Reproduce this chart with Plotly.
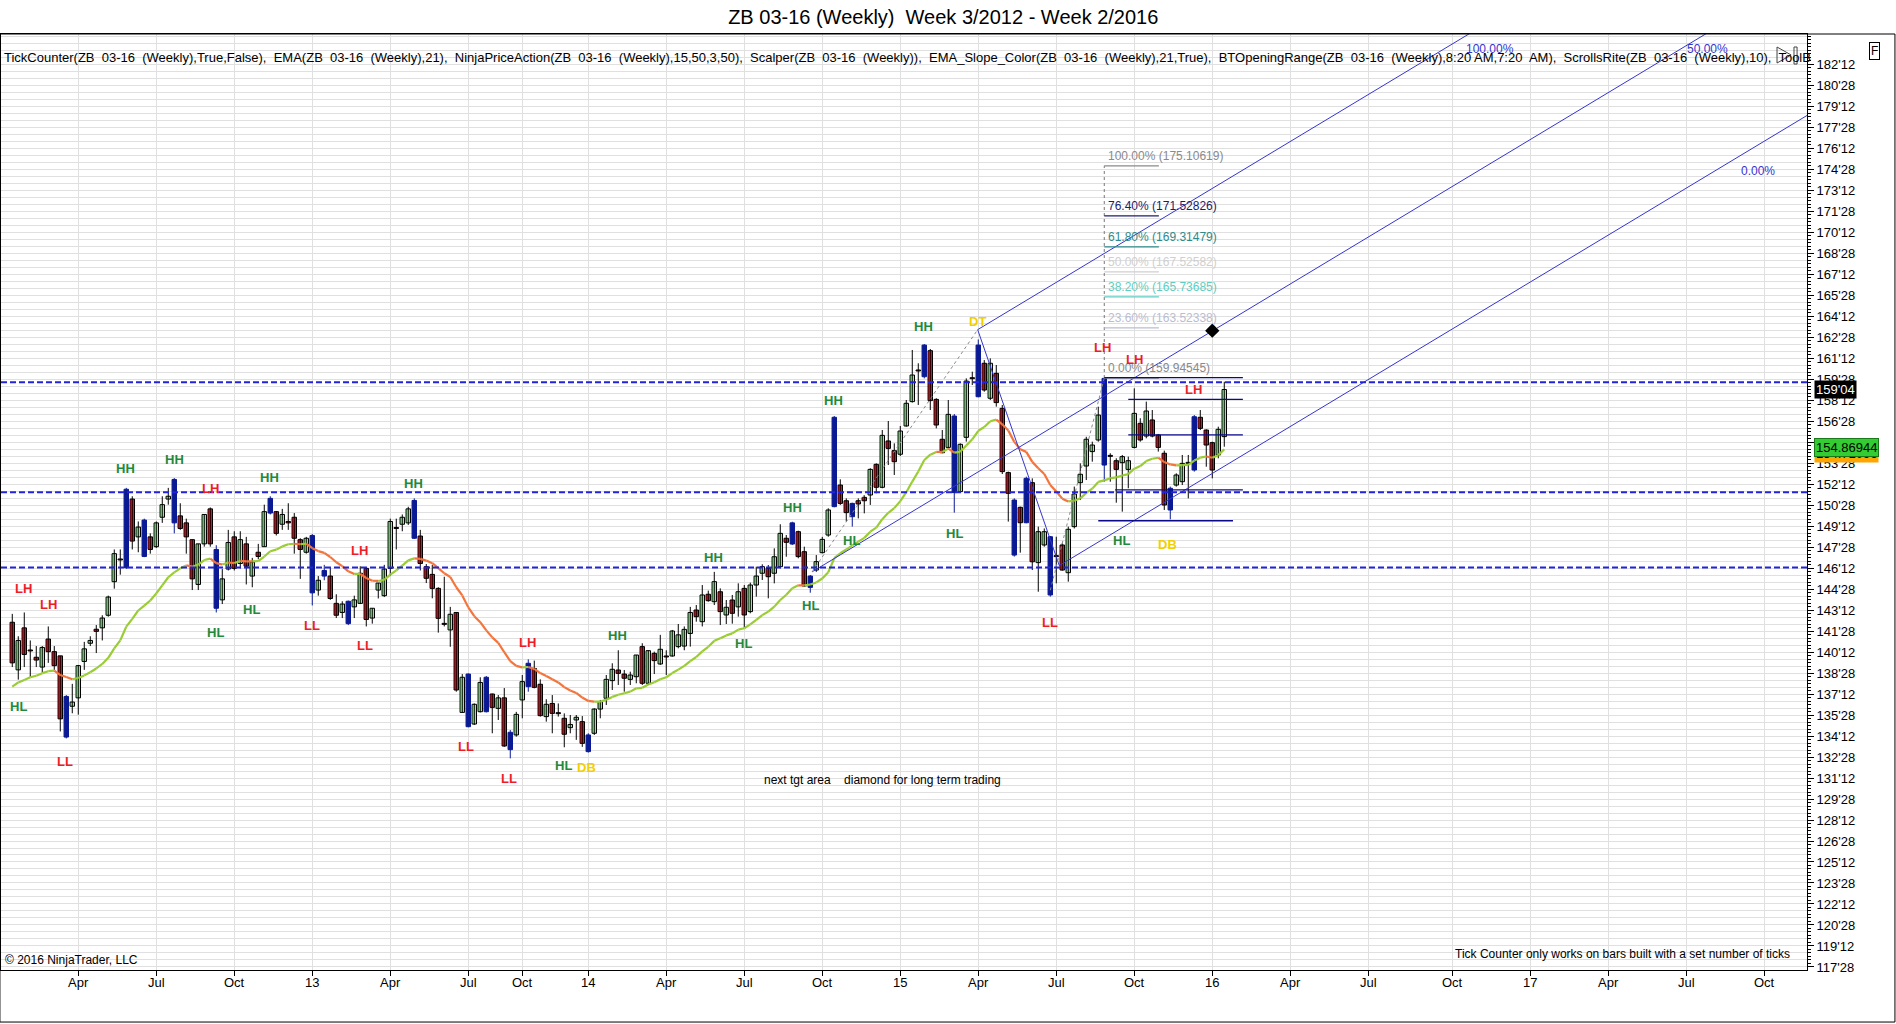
import plotly.graph_objects as go

# weekly bars, ZB 03-16, one bar per week (bar index on x)
OPEN = [142.5, 139.1, 142.1, 140.5, 140.0, 139.3, 141.3, 140.4, 140.1, 134.3,
        136.5, 137.1, 139.7, 141.0, 142.0, 142.1, 143.0, 145.4, 147.0, 146.4,
        151.3, 148.6, 149.8, 148.6, 147.9, 150.0, 151.3, 152.7, 150.1, 149.6,
        148.4, 145.2, 148.1, 150.6, 147.7, 144.1, 146.3, 148.6, 146.7, 148.1,
        145.8, 147.5, 147.9, 150.3, 150.4, 149.5, 149.7, 150.0, 148.4, 147.5,
        148.7, 144.8, 145.8, 145.8, 143.85, 143.2, 144.0, 143.6, 143.85, 146.35,
        142.8, 144.8, 144.4, 146.35, 149.25, 149.5, 149.6, 151.2, 148.66, 146.47,
        145.92, 144.92, 142.4, 141.95, 143.2, 136.06, 138.8, 135.23, 136.11, 138.57,
        137.375, 136.35, 137.1, 134.64, 134.45, 136.95, 137.9, 139.2, 138.07, 135.76,
        136.7, 135.99, 135.64, 134.97, 135.52, 135.4, 133.26, 134.57, 136.3, 137.07,
        138.33, 139.09, 138.8, 138.42, 138.61, 140.76, 138.14, 140.28, 139.52, 140.04,
        140.09, 140.76, 140.8, 141.7, 143.375, 142.54, 144.5, 143.97, 144.68, 143.02,
        144.09, 143.6, 144.92, 143.26, 145.16, 146.0, 146.35, 146.0, 146.47, 148.5,
        148.09, 148.97, 147.54, 144.99, 146.23, 147.47, 148.73, 150.76, 152.3, 151.18,
        150.04, 151.18, 151.42, 151.59, 153.78, 152.14, 155.45, 154.76, 154.5, 156.52,
        158.26, 160.47, 160.04, 161.9, 158.42, 155.57, 154.99, 157.23, 151.83, 155.71,
        159.92, 158.61, 161.0, 158.5, 160.28, 157.78, 153.19, 151.23, 150.71, 149.61,
        152.47, 146.76, 148.02, 148.61, 147.23, 148.02, 146.04, 149.33, 152.47, 153.66,
        154.69, 155.52, 159.92, 154.375, 154.04, 153.9, 153.42, 154.99, 156.71, 155.8,
        156.95, 155.875, 154.57, 150.52, 152.3, 152.54, 153.85, 153.375, 157.14, 156.23,
        155.33, 154.45, 155.76]
HIGH = [143.1, 141.5, 143.2, 141.2, 140.8, 140.8, 142.2, 140.8, 140.1, 137.3,
        138.1, 139.45, 141.1, 141.5, 142.3, 143.0, 144.4, 147.7, 147.7, 152.1,
        151.5, 149.7, 149.9, 148.85, 149.7, 151.5, 152.1, 152.8, 151.0, 149.9,
        148.4, 148.1, 150.2, 150.7, 148.0, 146.3, 149.1, 149.0, 149.0, 148.6,
        147.1, 148.1, 150.9, 151.5, 150.45, 150.6, 151.0, 150.3, 148.5, 148.6,
        148.8, 145.8, 146.6, 146.4, 144.5, 144.0, 144.05, 144.4, 146.5, 146.4,
        143.5, 145.3, 146.6, 149.9, 149.9, 150.2, 150.75, 151.35, 149.1, 146.66,
        146.59, 145.0, 145.75, 143.6, 143.2, 138.8, 138.85, 136.7, 138.57, 138.66,
        137.4, 137.3, 137.8, 134.8, 136.1, 138.73, 139.85, 139.76, 138.42, 137.0,
        137.3, 136.7, 135.99, 135.875, 135.875, 135.8, 134.57, 136.35, 136.95, 138.73,
        139.57, 140.5, 139.09, 138.97, 140.16, 141.0, 140.5, 140.4, 141.6, 140.5,
        141.95, 142.375, 142.2, 143.6, 143.73, 145.16, 144.76, 146.1, 144.92, 144.09,
        144.45, 145.28, 145.16, 145.33, 146.47, 146.64, 146.59, 147.78, 149.5, 148.73,
        149.68, 149.04, 147.9, 145.875, 147.3, 148.6, 150.64, 157.23, 152.71, 151.35,
        151.04, 151.35, 151.59, 153.5, 153.85, 156.23, 156.875, 155.28, 156.52, 158.375,
        161.95, 161.0, 162.375, 162.02, 158.5, 156.23, 158.375, 157.375, 155.28, 159.92,
        160.4, 162.7, 161.23, 161.35, 160.875, 158.02, 153.26, 151.35, 150.76, 152.9,
        152.78, 149.33, 149.2, 148.66, 148.61, 148.14, 149.33, 152.19, 153.85, 155.75,
        155.4, 157.9, 159.945, 154.57, 154.21, 154.45, 154.33, 159.21, 157.07, 158.26,
        157.66, 155.95, 154.76, 152.19, 153.14, 154.45, 154.45, 157.3, 157.66, 156.28,
        155.4, 156.47, 159.68]
LOW = [139.3, 138.4, 139.3, 138.6, 139.3, 138.9, 139.6, 139.1, 134.7, 134.2,
       136.0, 135.9, 139.1, 140.8, 140.3, 141.2, 142.9, 144.9, 145.9, 146.3,
       147.7, 147.5, 147.15, 147.4, 147.8, 149.6, 150.9, 148.85, 149.1, 147.4,
       144.8, 144.8, 147.9, 147.9, 143.2, 143.8, 146.2, 146.2, 146.35, 145.2,
       145.0, 147.0, 147.9, 150.2, 148.7, 149.1, 149.1, 147.4, 145.6, 147.4,
       143.7, 144.4, 145.5, 144.1, 142.8, 142.8, 142.3, 142.8, 143.8, 142.2,
       142.4, 144.2, 144.3, 145.8, 147.7, 149.0, 149.45, 148.45, 146.2, 145.3,
       144.21, 141.76, 142.2, 140.75, 137.54, 136.04, 135.0, 135.16, 136.06, 136.06,
       134.57, 135.52, 133.6, 132.78, 134.33, 135.64, 137.54, 137.78, 135.76, 135.4,
       134.57, 135.76, 133.57, 134.57, 134.1, 133.6, 133.19, 134.45, 135.64, 136.59,
       137.66, 138.02, 137.54, 138.02, 138.14, 138.02, 138.02, 138.8, 139.45, 138.73,
       140.04, 140.64, 140.5, 140.76, 142.54, 142.2, 143.97, 143.73, 142.3, 142.375,
       142.4, 142.9, 142.1, 143.14, 144.33, 145.52, 144.21, 145.28, 146.35, 147.18,
       148.02, 147.07, 145.04, 144.61, 146.1, 147.42, 148.61, 150.71, 150.88, 149.69,
       149.33, 149.92, 150.28, 150.88, 151.71, 152.07, 153.73, 153.02, 154.375, 156.47,
       158.19, 158.02, 159.92, 157.66, 156.35, 154.57, 154.92, 150.33, 151.76, 155.4,
       159.45, 158.57, 158.97, 158.375, 157.9, 153.09, 149.69, 147.19, 147.47, 149.57,
       146.23, 144.68, 147.9, 144.33, 145.28, 146.19, 145.4, 149.2, 151.23, 152.66,
       153.97, 155.4, 152.54, 152.54, 151.04, 150.4, 152.07, 154.92, 155.4, 155.64,
       155.71, 154.69, 150.52, 149.85, 152.19, 152.3, 151.35, 153.26, 156.23, 153.61,
       152.78, 154.21, 155.04]
CLOSE = [139.6, 141.2, 140.2, 140.45, 139.8, 140.7, 140.4, 139.4, 135.6, 137.2,
         136.8, 139.4, 140.6, 141.2, 141.85, 142.8, 144.3, 147.4, 146.95, 152.0,
         148.3, 149.3, 147.2, 147.7, 149.6, 150.9, 151.5, 149.6, 149.2, 148.6,
         145.6, 148.1, 150.2, 148.1, 143.5, 145.6, 148.2, 146.35, 148.4, 146.5,
         146.8, 147.2, 150.4, 151.35, 148.85, 150.2, 149.6, 148.5, 147.7, 148.5,
         144.6, 145.5, 146.2, 144.2, 143.0, 143.8, 142.4, 144.1, 146.0, 142.7,
         143.5, 145.3, 146.3, 149.7, 149.2, 150.0, 150.6, 148.5, 146.7, 145.64,
         144.92, 142.78, 142.35, 143.07, 137.66, 138.57, 135.04, 136.64, 138.2, 136.11,
         136.42, 137.1, 133.66, 133.4, 135.92, 138.26, 139.57, 137.85, 135.83, 136.64,
         135.99, 135.97, 134.5, 135.2, 135.71, 133.85, 134.45, 136.3, 136.83, 138.42,
         139.14, 138.85, 138.5, 138.73, 140.16, 138.14, 140.47, 139.76, 140.57, 140.02,
         141.875, 141.6, 141.99, 143.2, 142.9, 144.45, 144.04, 145.4, 143.26, 143.57,
         143.14, 144.68, 143.02, 145.16, 145.8, 146.47, 145.755, 147.18, 148.85, 148.21,
         149.6, 147.19, 145.09, 145.8, 146.83, 148.42, 150.52, 157.14, 150.99, 150.33,
         150.99, 150.95, 151.18, 153.42, 152.14, 155.85, 154.92, 153.97, 156.16, 158.14,
         160.16, 160.45, 162.3, 158.33, 156.59, 154.61, 157.35, 151.76, 155.21, 159.73,
         159.9, 162.3, 159.09, 161.0, 158.19, 153.26, 151.71, 147.3, 149.61, 152.78,
         146.82, 148.97, 148.97, 144.45, 147.19, 146.23, 149.14, 151.66, 153.07, 155.57,
         155.16, 157.3, 153.73, 154.35, 153.42, 154.33, 154.04, 157.42, 155.52, 157.59,
         155.8, 154.99, 150.875, 152.07, 153.02, 153.85, 153.9, 157.18, 156.35, 155.16,
         153.375, 156.28, 159.125]
# bars painted blue by the Scalper indicator
SCALPER_BARS = [9, 19, 22, 27, 34, 43, 50, 52, 56, 67, 76, 79, 83, 86, 96, 130, 133,
                137, 140, 152, 157, 161, 167, 169, 173, 182, 193, 197]

EMA_PERIOD = 21
EMA_START = 137.9

X_TICK_POS = [11, 24, 37, 50, 63, 76, 85, 96, 109, 122, 135, 148, 161, 174, 187,
              200, 213, 226, 240, 253, 266, 279, 292]
X_TICK_TEXT = ["Apr", "Jul", "Oct", "13", "Apr", "Jul", "Oct", "14", "Apr", "Jul",
               "Oct", "15", "Apr", "Jul", "Oct", "16", "Apr", "Jul", "Oct", "17",
               "Apr", "Jul", "Oct"]

# horizontal support / resistance lines
SR_LEVELS = [159.64, 151.78, 146.42]

# swing labels (NinjaPriceAction)
SWING_TEXT = ["LH", "LH", "HL", "LL", "HH", "HH", "LH", "HH", "HL", "HL", "LL", "LH",
              "LL", "HH", "LL", "LH", "LL", "HL", "DB", "HH", "HH", "HL", "HH", "HL",
              "HL", "HH", "HH", "HL", "DT", "LH", "LH", "LL", "HL", "DB", "LH"]
SWING_X = [1.8, 6.0, 1.0, 8.8, 18.9, 27.0, 33.0, 42.9, 33.8, 39.9, 49.9, 57.8,
           58.8, 66.9, 75.7, 85.8, 82.8, 91.9, 95.7, 100.9, 116.9, 121.9, 130.0, 139.8,
           133.0, 136.8, 151.9, 157.0, 160.8, 181.7, 187.0, 172.9, 184.8, 192.6, 196.9]
SWING_Y = [144.9, 143.76, 136.5, 132.53, 153.5, 154.12, 152.05, 152.83, 141.77, 143.42,
           142.29, 147.65, 140.82, 152.4, 133.66, 141.08, 131.33, 132.28, 132.1, 141.52,
           147.13, 141.0, 150.67, 148.34, 143.68, 158.36, 163.62, 148.85, 163.97, 162.16,
           161.3, 142.47, 148.34, 148.08, 159.13]

# Andrews pitchfork anchors (bar index, price)
PF_A = (133.3, 146.1)
PF_B = (160.9, 163.4)
PF_C = (174.5, 146.55)
PF_LABELS = ["100.00%", "50.00%", "0.00%"]
PF_LABEL_X = [246.3, 282.5, 290.9]
PF_LABEL_Y = [183.45, 183.45, 174.73]

# Fibonacci extension drawn from the Aug 2015 low to the Sep 2015 high
FIB_LOW = (173.0, 144.78471)
FIB_HIGH = (182.0, 159.94545)
FIB_PCT = ["100.00%", "76.40%", "61.80%", "50.00%", "38.20%", "23.60%", "0.00%"]
FIB_PRICE = [175.10619, 171.52826, 169.31479, 167.52582, 165.73685, 163.52338, 159.94545]
FIB_COLOR = ["#8a8a8a", "#1c1c6e", "#2e8b8b", "#cfcfcf", "#5ccfc2", "#b9bdd2", "#8a8a8a"]
FIB_END = 191.1

# opening range lines
OR_LEVEL = [159.97, 158.42, 155.88, 151.95, 149.75]
OR_START = [182.0, 186.0, 186.0, 183.8, 181.0]
OR_END = [205.1, 205.1, 205.1, 205.1, 203.45]

DIAMOND = (200.0, 163.33)
NOTE_POS = (124.9, 131.2)

LAST_CLOSE_TEXT = "159'04"
EMA_TEXT = "154.86944"
EMA_LABEL_Y = 154.98
ORANGE_LABEL_Y = 154.58

FONT = "Liberation Sans, Arial, sans-serif"
UP_FILL = "#90ee90"
DOWN_FILL = "#e8141c"
SCALPER = "#0b1a94"
PF_COLOR = "#3535d0"
GRID = "#e0e0e0"

X_RANGE = [-1.88, 299.12]
Y_RANGE = [117.66, 184.52]

n = len(CLOSE)
idx = list(range(n))
blue = set(SCALPER_BARS)

fig = go.Figure()

# wicks
for is_blue, col in [(False, "black"), (True, SCALPER)]:
    wx, wy = [], []
    for i in idx:
        if (i in blue) != is_blue:
            continue
        wx += [i, i, None]
        wy += [LOW[i], HIGH[i], None]
    fig.add_trace(go.Scatter(x=wx, y=wy, mode="lines", line=dict(color=col, width=1),
                             hoverinfo="skip"))

# bodies
base, height, fill, edge = [], [], [], []
for i in idx:
    o, c = OPEN[i], CLOSE[i]
    base.append(min(o, c))
    height.append(max(abs(c - o), 0.07))
    if i in blue:
        fill.append(SCALPER)
        edge.append(SCALPER)
    elif c >= o:
        fill.append(UP_FILL)
        edge.append("black")
    else:
        fill.append(DOWN_FILL)
        edge.append("black")
fig.add_trace(go.Bar(x=idx, y=height, base=base, width=0.74,
                     marker=dict(color=fill, line=dict(color=edge, width=1)),
                     hoverinfo="skip"))

# EMA with slope colouring
alpha = 2.0 / (EMA_PERIOD + 1)
ema = [EMA_START]
for c in CLOSE[1:]:
    ema.append(ema[-1] + alpha * (c - ema[-1]))
segs = {"#9acd32": ([], []), "#f4743b": ([], [])}
for i in range(1, n):
    col = "#9acd32" if ema[i] >= ema[i - 1] else "#f4743b"
    segs[col][0].extend([i - 1, i, None])
    segs[col][1].extend([ema[i - 1], ema[i], None])
for col, (sx, sy) in segs.items():
    fig.add_trace(go.Scatter(x=sx, y=sy, mode="lines", line=dict(color=col, width=2.2),
                             hoverinfo="skip"))

# pitchfork
ax_, ay_ = PF_A
bx_, by_ = PF_B
cx_, cy_ = PF_C
mx_, my_ = (bx_ + cx_) / 2, (by_ + cy_) / 2
slope = (my_ - ay_) / (mx_ - ax_)
x_far = 330
for x0, y0 in [(ax_, ay_), (bx_, by_), (cx_, cy_)]:
    fig.add_trace(go.Scatter(x=[x0, x_far], y=[y0, y0 + slope * (x_far - x0)], mode="lines",
                             line=dict(color=PF_COLOR, width=1), hoverinfo="skip"))
fig.add_trace(go.Scatter(x=[bx_, cx_], y=[by_, cy_], mode="lines",
                         line=dict(color=PF_COLOR, width=1), hoverinfo="skip"))
fig.add_trace(go.Scatter(x=[ax_, bx_], y=[ay_, by_], mode="lines",
                         line=dict(color="#888888", width=1, dash="dot"), hoverinfo="skip"))

# fib extension
fig.add_trace(go.Scatter(x=[FIB_LOW[0], FIB_HIGH[0]], y=[FIB_LOW[1], FIB_HIGH[1]], mode="lines",
                         line=dict(color="#888888", width=1, dash="dot"), hoverinfo="skip"))
fig.add_trace(go.Scatter(x=[FIB_HIGH[0], FIB_HIGH[0]], y=[FIB_HIGH[1], FIB_PRICE[0]], mode="lines",
                         line=dict(color="#777777", width=1, dash="dot"), hoverinfo="skip"))
for pct, price, col in zip(FIB_PCT, FIB_PRICE, FIB_COLOR):
    fig.add_trace(go.Scatter(x=[FIB_HIGH[0], FIB_END], y=[price, price], mode="lines",
                             line=dict(color=col, width=1.2), hoverinfo="skip"))
    fig.add_annotation(x=FIB_HIGH[0] + 0.3, y=price, text=f"{pct} ({price:.5f})",
                       showarrow=False, xanchor="left", yanchor="bottom", yshift=1,
                       font=dict(family=FONT, size=12, color=col))

# opening range lines
for lv, x0, x1 in zip(OR_LEVEL, OR_START, OR_END):
    fig.add_trace(go.Scatter(x=[x0, x1], y=[lv, lv], mode="lines",
                             line=dict(color="#0a0a8a", width=1.3), hoverinfo="skip"))

# diamond
fig.add_trace(go.Scatter(x=[DIAMOND[0]], y=[DIAMOND[1]], mode="markers",
                         marker=dict(symbol="diamond", size=11, color="black"), hoverinfo="skip"))

# dummy trace for the fine tick axis
fig.add_trace(go.Scatter(x=[0], y=[150], yaxis="y2", mode="markers",
                         marker=dict(opacity=0), hoverinfo="skip"))

# swing labels
swing_col = {"HH": "#1f8a3a", "HL": "#1f8a3a", "LH": "#ee1c25", "LL": "#ee1c25",
             "DT": "#f2cf00", "DB": "#f2cf00"}
for t, x, y in zip(SWING_TEXT, SWING_X, SWING_Y):
    fig.add_annotation(x=x, y=y, text=f"<b>{t}</b>", showarrow=False,
                       font=dict(family=FONT, size=13, color=swing_col[t]))

# pitchfork labels
for t, x, y in zip(PF_LABELS, PF_LABEL_X, PF_LABEL_Y):
    fig.add_annotation(x=x, y=y, text=t, showarrow=False,
                       font=dict(family=FONT, size=12, color=PF_COLOR))

fig.add_annotation(x=NOTE_POS[0], y=NOTE_POS[1], xanchor="left",
                   text="next tgt area\u00a0\u00a0\u00a0 diamond for long term trading",
                   showarrow=False, font=dict(family=FONT, size=12, color="black"))

# x tick labels, set close under the axis line
for pos, txt in zip(X_TICK_POS, X_TICK_TEXT):
    fig.add_annotation(x=pos, xref="x", y=0, yref="paper", yanchor="top", yshift=-3,
                       text=txt, showarrow=False,
                       font=dict(family=FONT, size=13, color="black"))

# header / footer texts
inst = "ZB\u00a0\u00a003-16\u00a0\u00a0(Weekly)"
header = (f"TickCounter({inst},True,False),\u00a0 EMA({inst},21),\u00a0 "
          f"NinjaPriceAction({inst},15,50,3,50),\u00a0 Scalper({inst}),\u00a0 "
          f"EMA_Slope_Color({inst},21,True),\u00a0 BTOpeningRange({inst},8:20 AM,7:20\u00a0 AM),\u00a0 "
          f"ScrollsRite({inst},10),\u00a0 ToolB")
fig.add_annotation(xref="paper", yref="paper", x=0.0005, y=0.985, xanchor="left",
                   text=header, showarrow=False, font=dict(family=FONT, size=13, color="black"))
fig.add_annotation(xref="paper", yref="paper", x=0.001, y=0.0107, xanchor="left",
                   yanchor="middle", text="© 2016 NinjaTrader, LLC", showarrow=False,
                   font=dict(family=FONT, size=12, color="black"))
fig.add_annotation(xref="paper", yref="paper", x=0.9917, y=0.0171, xanchor="right",
                   yanchor="middle",
                   text="Tick Counter only works on bars built with a set number of ticks",
                   showarrow=False, font=dict(family=FONT, size=12, color="black"))

# right side value flags
fig.add_annotation(xref="paper", x=1.004, y=ORANGE_LABEL_Y, xanchor="left", text="154.71096",
                   showarrow=False, bgcolor="#ffa500", borderpad=1,
                   font=dict(family=FONT, size=13, color="black"))
fig.add_annotation(xref="paper", x=1.004, y=EMA_LABEL_Y, xanchor="left", text=EMA_TEXT,
                   showarrow=False, bgcolor="#33cc33", bordercolor="#1a7a1a", borderwidth=1,
                   borderpad=1, font=dict(family=FONT, size=13, color="black"))
fig.add_annotation(xref="paper", x=1.004, y=CLOSE[-1], xanchor="left", text=LAST_CLOSE_TEXT,
                   showarrow=False, bgcolor="black", borderpad=1,
                   font=dict(family=FONT, size=13, color="white"))
fig.add_annotation(xref="paper", yref="paper", x=1.0404, y=0.9915, text="F", showarrow=False,
                   bordercolor="black", borderwidth=1, borderpad=1,
                   font=dict(family=FONT, size=12, color="black"))

shapes = []
for lv in SR_LEVELS:
    shapes.append(dict(type="line", xref="paper", x0=0, x1=1, yref="y", y0=lv, y1=lv,
                       line=dict(color="#2323dd", width=2, dash="6px,3px")))
# outer frame and small play icon
shapes.append(dict(type="rect", xref="paper", yref="paper", x0=-0.0006, x1=1.0487,
                   y0=-0.0556, y1=1.0, line=dict(color="black", width=1)))
shapes.append(dict(type="path", xref="paper", yref="paper",
                   path="M 0.9834 0.9861 L 0.9912 0.9776 L 0.9834 0.9690 Z",
                   line=dict(color="#444444", width=1)))
shapes.append(dict(type="rect", xref="paper", yref="paper", x0=0.9928, x1=0.9945,
                   y0=0.9679, y1=0.9861, line=dict(color="#444444", width=1)))


def fmt32(v):
    whole = int(v)
    return f"{whole}'{int(round((v - whole) * 32)):02d}"


y_ticks = [117.875 + 1.5 * k for k in range(44)]

fig.update_layout(
    width=1896, height=1024,
    margin=dict(l=1, r=89, t=34, b=54),
    paper_bgcolor="white", plot_bgcolor="white",
    showlegend=False,
    title=dict(text="ZB 03-16 (Weekly)\u00a0\u00a0Week 3/2012 - Week 2/2016",
               x=0.4975, xref="container", y=1 - 17 / 1024, yref="container",
               xanchor="center", yanchor="middle",
               font=dict(family=FONT, size=20, color="black")),
    shapes=shapes,
    xaxis=dict(range=X_RANGE, tickmode="array", tickvals=X_TICK_POS, showticklabels=False,
               showgrid=True, gridcolor=GRID, zeroline=False, showline=True, linecolor="black",
               mirror=True, ticks="outside", ticklen=5, tickcolor="black"),
    yaxis=dict(range=Y_RANGE, side="right", tickmode="array", tickvals=y_ticks,
               ticktext=[fmt32(v) for v in y_ticks], showgrid=True, gridcolor=GRID,
               zeroline=False, showline=True, linecolor="black", mirror=True,
               ticks="outside", ticklen=6, tickcolor="black",
               tickfont=dict(family=FONT, size=13, color="black"),
               minor=dict(dtick=0.5, tick0=117.875, showgrid=True, gridcolor=GRID, ticks="")),
    yaxis2=dict(overlaying="y", matches="y", side="right", anchor="x", showgrid=False,
                showticklabels=False, zeroline=False, ticks="outside", ticklen=3,
                tickcolor="black", tickmode="linear", tick0=117.875, dtick=0.25),
)

fig.write_html("out.html", config={"displayModeBar": False},
               post_script="document.body.style.margin='0';")
